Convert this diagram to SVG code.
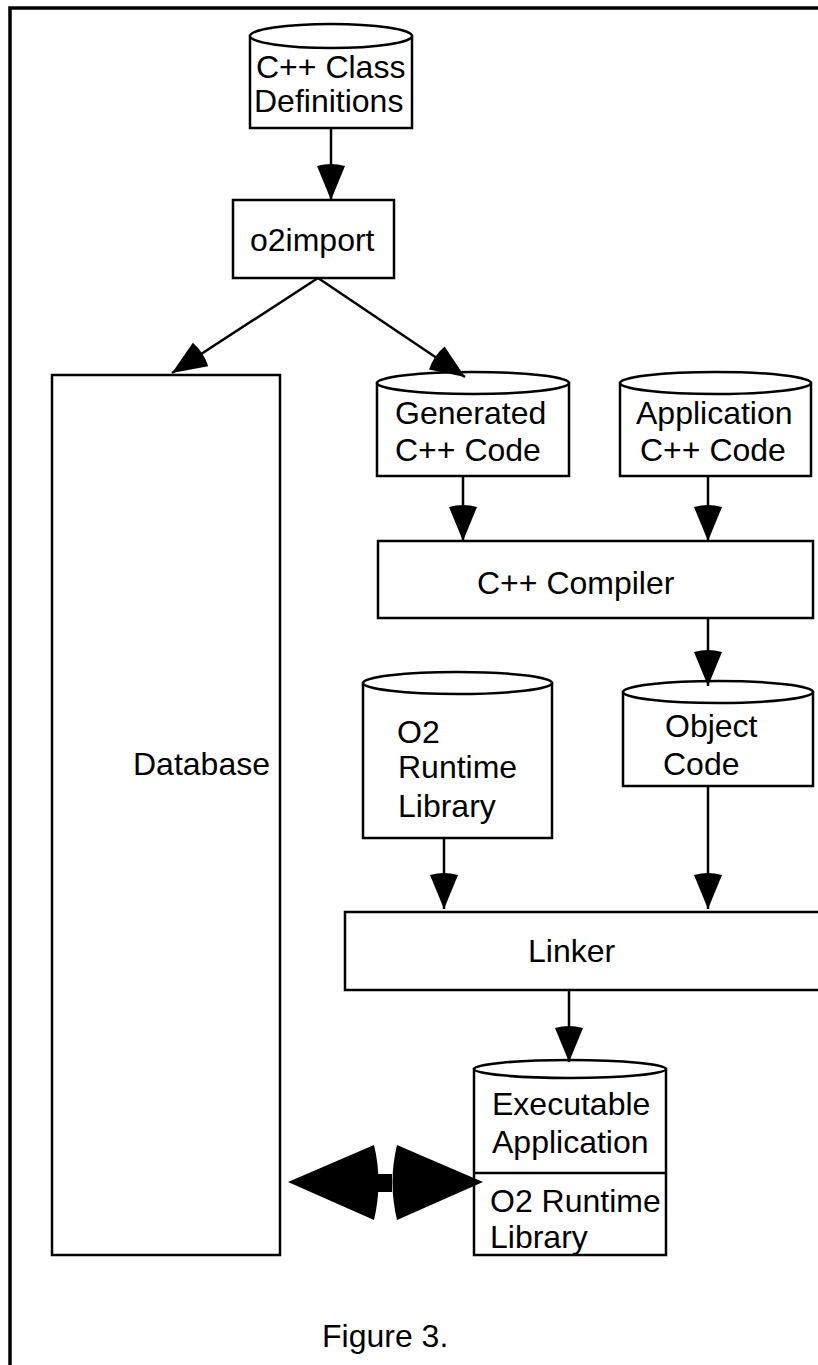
<svg xmlns="http://www.w3.org/2000/svg" width="818" height="1365" viewBox="0 0 818 1365">
<defs>
<style>
.box{fill:#fff;stroke:#000;stroke-width:2.5}
.ln{fill:none;stroke:#000;stroke-width:2.5}
.t{font-family:"Liberation Sans",Arial,sans-serif;font-size:32px;fill:#000}
.con{fill:none;stroke:#000;stroke-width:2.5}
</style>
<marker id="ah" viewBox="-40 -16 42 32" markerWidth="42" markerHeight="32" refX="0" refY="0" orient="auto" markerUnits="userSpaceOnUse">
<path d="M0,0 L-34,-14 Q-38,0 -34,14 Z" fill="#000"/>
</marker>
</defs>
<rect width="818" height="1365" fill="#fff"/>
<g id="frame">
<path d="M10,1365 V8 H818" fill="none" stroke="#000" stroke-width="3.5"/>
</g>
<g id="classdefs">
<rect class="box" x="250" y="36" width="162" height="92"/>
<ellipse class="box" cx="331" cy="36" rx="81" ry="12"/>
<text class="t" x="256" y="78">C++ Class</text>
<text class="t" x="254" y="112">Definitions</text>
</g>
<g id="o2import">
<rect class="box" x="233" y="200" width="161" height="78"/>
<text class="t" x="250" y="251">o2import</text>
</g>
<g id="database">
<rect class="box" x="52" y="375" width="228" height="880"/>
<text class="t" x="133" y="775">Database</text>
</g>
<g id="generated">
<rect class="box" x="377" y="383" width="192" height="93"/>
<ellipse class="box" cx="473" cy="383" rx="96" ry="11"/>
<text class="t" x="395" y="424">Generated</text>
<text class="t" x="395" y="461">C++ Code</text>
</g>
<g id="application">
<rect class="box" x="620" y="383" width="191" height="93"/>
<ellipse class="box" cx="715.5" cy="383" rx="95.5" ry="11"/>
<text class="t" x="636" y="424">Application</text>
<text class="t" x="640" y="461">C++ Code</text>
</g>
<g id="compiler">
<rect class="box" x="378" y="541" width="435" height="77"/>
<text class="t" x="477" y="594">C++ Compiler</text>
</g>
<g id="runtimelib">
<rect class="box" x="363" y="683" width="189" height="155"/>
<ellipse class="box" cx="457.5" cy="683" rx="94.5" ry="11"/>
<text class="t" x="397" y="743">O2</text>
<text class="t" x="398" y="778">Runtime</text>
<text class="t" x="398" y="817">Library</text>
</g>
<g id="objectcode">
<rect class="box" x="623" y="692" width="190" height="94"/>
<ellipse class="box" cx="718" cy="692" rx="95" ry="11"/>
<text class="t" x="665" y="737">Object</text>
<text class="t" x="663" y="775">Code</text>
</g>
<g id="linker">
<rect class="box" x="345" y="912" width="490" height="78"/>
<text class="t" x="528" y="962">Linker</text>
</g>
<g id="executable">
<rect class="box" x="474" y="1069" width="192" height="186"/>
<ellipse class="box" cx="570" cy="1069" rx="96" ry="9"/>
<line class="ln" x1="474" y1="1173" x2="666" y2="1173"/>
<text class="t" x="492" y="1115">Executable</text>
<text class="t" x="492" y="1153">Application</text>
<text class="t" x="490" y="1212">O2 Runtime</text>
<text class="t" x="490" y="1248">Library</text>
</g>
<g id="connectors">
<line class="con" x1="331" y1="128" x2="331" y2="200" marker-end="url(#ah)"/>
<line class="con" x1="318" y1="278" x2="172" y2="373" marker-end="url(#ah)"/>
<line class="con" x1="318" y1="278" x2="465" y2="377" marker-end="url(#ah)"/>
<line class="con" x1="463" y1="476" x2="463" y2="541" marker-end="url(#ah)"/>
<line class="con" x1="708" y1="476" x2="708" y2="541" marker-end="url(#ah)"/>
<line class="con" x1="708" y1="618" x2="708" y2="686" marker-end="url(#ah)"/>
<line class="con" x1="444" y1="838" x2="444" y2="909" marker-end="url(#ah)"/>
<line class="con" x1="708" y1="786" x2="708" y2="909" marker-end="url(#ah)"/>
<line class="con" x1="569" y1="990" x2="569" y2="1062" marker-end="url(#ah)"/>
<path d="M288,1182 L374,1145 Q383,1182 374,1220 Z M483,1182 L397,1145 Q388,1182 397,1220 Z M378,1174 H392 V1192 H378 Z" fill="#000"/>
</g>
<text class="t" x="322" y="1347">Figure 3.</text>
</svg>
